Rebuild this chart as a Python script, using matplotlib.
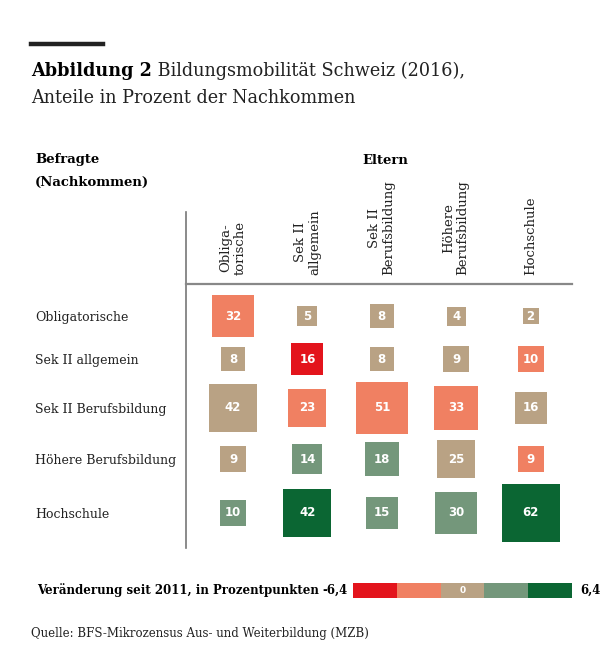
import numpy as np
import matplotlib.pyplot as plt
from matplotlib.lines import Line2D

# Bildungsmobilität Schweiz 2016, Anteile in % der Nachkommen
eltern = ['Obliga-\ntorische', 'Sek II\nallgemein', 'Sek II\nBerufsbildung',
          'Höhere\nBerufsbildung', 'Hochschule']
befragte = ['Obligatorische', 'Sek II allgemein', 'Sek II Berufsbildung',
            'Höhere Berufsbildung', 'Hochschule']

# rows = Befragte, cols = Eltern
anteile = [[32, 5, 8, 4, 2],
           [8, 16, 8, 9, 10],
           [42, 23, 51, 33, 16],
           [9, 14, 18, 25, 9],
           [10, 42, 15, 30, 62]]

# change class since 2011: -2 strong minus ... +2 strong plus
veraenderung = [[-1, 0, 0, 0, 0],
                [0, -2, 0, 0, -1],
                [0, -1, -1, -1, 0],
                [0, 1, 1, 0, -1],
                [1, 2, 1, 1, 2]]

klassen = [-2, -1, 0, 1, 2]
klassen_farben = ['#e3141c', '#f08062', '#b9a284', '#74977b', '#0b6633']
legend_min, legend_max = '-6,4', '6,4'

W, H = 615, 671
DPI = 100
fig = plt.figure(figsize=(W / DPI, H / DPI), dpi=DPI)

def fx(px):
    return px / W

def fy(py):
    return 1 - py / H

serif = 'DejaVu Serif'
sans = 'DejaVu Sans'
ink = '#222222'

# header
fig.add_artist(Line2D([fx(31), fx(103)], [fy(44), fy(44)], color=ink, lw=3.2))
t1 = fig.text(fx(31), fy(71), 'Abbildung 2', fontsize=12.7, fontweight='bold',
              family=serif, va='center', ha='left')
fig.canvas.draw()
bb = t1.get_window_extent()
fig.text(bb.x1 / W, fy(71), ' Bildungsmobilität Schweiz (2016),', fontsize=12.7,
         family=serif, va='center', ha='left', color=ink)
fig.text(fx(31), fy(98), 'Anteile in Prozent der Nachkommen', fontsize=12.7,
         family=serif, va='center', ha='left', color=ink)

fig.text(fx(35), fy(160), 'Befragte', fontsize=9.5, fontweight='bold', family=serif,
         va='center', ha='left')
fig.text(fx(35), fy(182), '(Nachkommen)', fontsize=9.5, fontweight='bold', family=serif,
         va='center', ha='left')
fig.text(fx(385), fy(160), 'Eltern', fontsize=9.5, fontweight='bold', family=serif,
         va='center', ha='center')

# grid axes, data units = pixels
left, right, top, bottom = 186, 572, 284, 548
ax = fig.add_axes([fx(left), fy(bottom), fx(right - left), (bottom - top) / H])
ax.set_xlim(left, right)
ax.set_ylim(bottom, top)
ax.set_facecolor('none')
for s in ax.spines.values():
    s.set_visible(False)

vals = np.array(anteile)
klasse = np.array(veraenderung)
farbe_map = dict(zip(klassen, klassen_farben))
seite = 6 + 6.5 * np.sqrt(vals)          # square side in px

# columns evenly spaced, rows stacked by their biggest square
xpos = 233 + 74.4 * np.arange(len(eltern))
row_max = seite.max(axis=1)
gap = 6
ypos = [316.0]
for r in range(1, len(befragte)):
    ypos.append(ypos[-1] + (row_max[r - 1] + row_max[r]) / 2 + gap)
ypos = np.array(ypos)

for r in range(len(befragte)):
    for c in range(len(eltern)):
        side_pt = seite[r, c] * 72 / DPI
        ax.scatter(xpos[c], ypos[r], s=side_pt ** 2, marker='s',
                   color=farbe_map[klasse[r, c]], linewidths=0, zorder=2)
        ax.text(xpos[c], ypos[r], str(vals[r, c]), ha='center', va='center',
                color='white', fontsize=8.5, fontweight='bold', family=sans, zorder=3)

ax.xaxis.tick_top()
ax.set_xticks(xpos)
ax.set_xticklabels(eltern, rotation=90, fontsize=9.5, family=serif, color=ink,
                   linespacing=1.1)
ax.tick_params(axis='x', length=0, pad=6.5)
ax.set_yticks(ypos)
ax.set_yticklabels(befragte, fontsize=9, family=serif, ha='left', color=ink)
ax.tick_params(axis='y', length=0, pad=(left - 35) * 72 / DPI)

fig.add_artist(Line2D([fx(186), fx(186)], [fy(212), fy(548)], color='#777777', lw=1.2))
fig.add_artist(Line2D([fx(186), fx(572)], [fy(284), fy(284)], color='#888888', lw=1.6))

# legend
fig.text(fx(37), fy(590), 'Veränderung seit 2011, in Prozentpunkten', fontsize=8.5,
         fontweight='bold', family=serif, va='center', ha='left')
fig.text(fx(348), fy(590), legend_min, fontsize=8.5, fontweight='bold', family=serif,
         va='center', ha='right')
fig.text(fx(580), fy(590), legend_max, fontsize=8.5, fontweight='bold', family=serif,
         va='center', ha='left')
lax = fig.add_axes([fx(353), fy(598), fx(572 - 353), 15 / H])
lax.bar(range(len(klassen)), [1] * len(klassen), width=1.0, color=klassen_farben)
lax.set_xlim(-0.5, len(klassen) - 0.5)
lax.set_ylim(0, 1)
lax.axis('off')
lax.text(klassen.index(0), 0.5, '0', ha='center', va='center', color='white',
         fontsize=6.5, fontweight='bold', family=sans)

fig.text(fx(31), fy(633), 'Quelle: BFS-Mikrozensus Aus- und Weiterbildung (MZB)',
         fontsize=8.5, family=serif, va='center', ha='left', color=ink)

fig.savefig('out.png', dpi=DPI)
